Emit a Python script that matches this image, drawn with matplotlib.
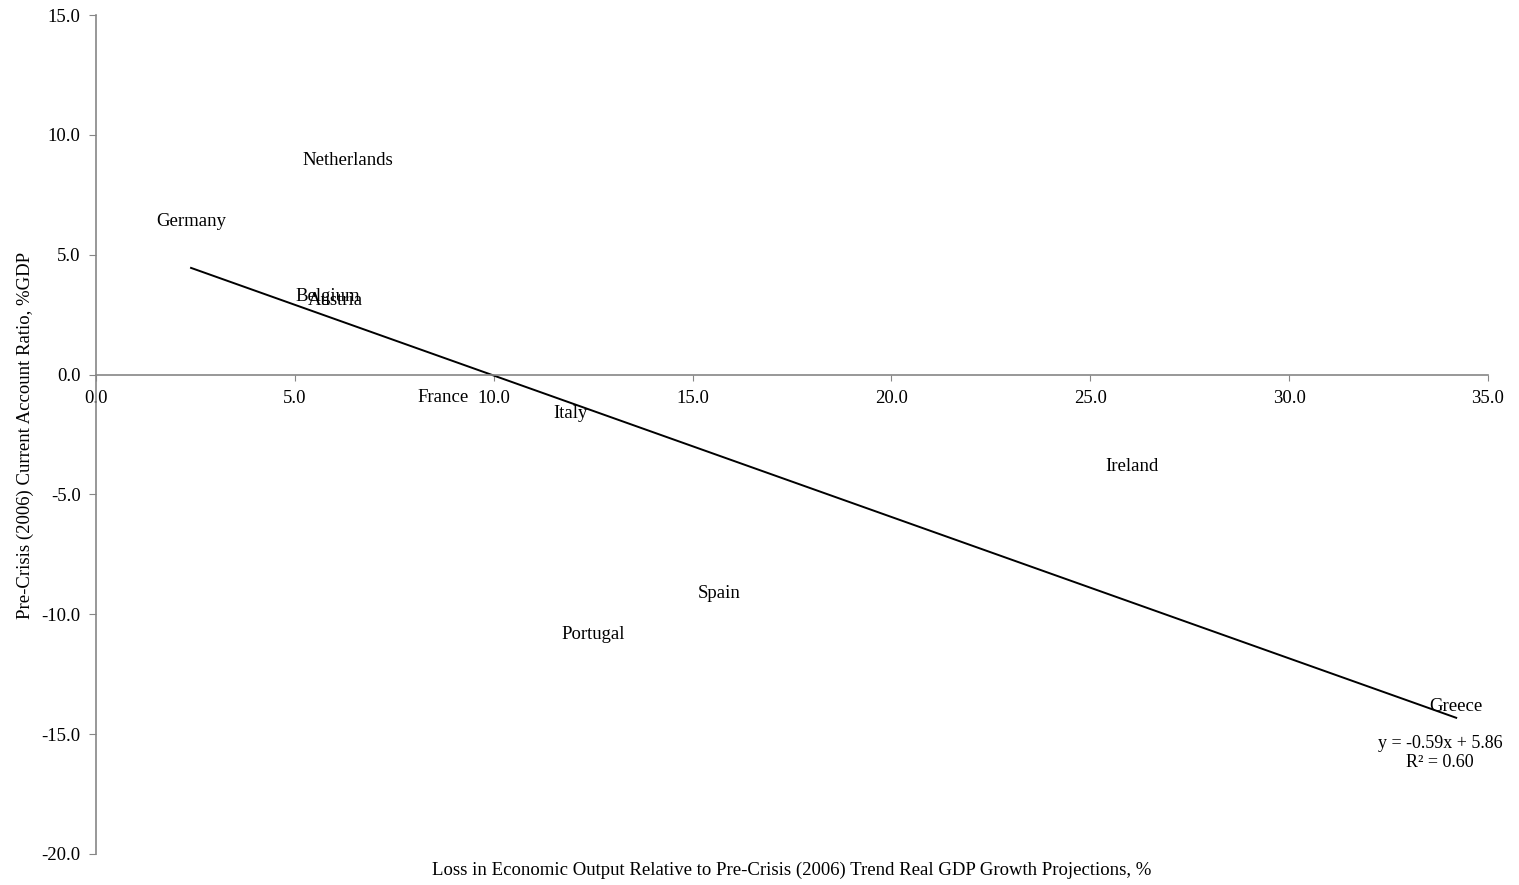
import matplotlib
matplotlib.use("Agg")
import matplotlib.pyplot as plt
import numpy as np

# Country observations: output loss (%) vs. pre-crisis current account (% GDP)
countries = ["Netherlands", "Germany", "Belgium", "Austria", "France", "Italy",
             "Ireland", "Spain", "Portugal", "Greece"]
output_loss = [6.34, 2.39, 5.83, 6.01, 8.73, 11.94, 26.05, 15.67, 12.50, 34.20]
current_account = [9.01, 6.47, 3.34, 3.17, -0.88, -1.54, -3.75, -9.05, -10.76, -13.77]

# Linear trend reported on the chart
slope, intercept, r_squared = -0.59, 5.86, 0.60

x_ticks = [0.0, 5.0, 10.0, 15.0, 20.0, 25.0, 30.0, 35.0]
y_ticks = [-20.0, -15.0, -10.0, -5.0, 0.0, 5.0, 10.0, 15.0]

plt.rcParams['font.family'] = ['Liberation Serif', 'DejaVu Serif']
FS = 13.5
AXIS_GREY = "#868686"

fig = plt.figure(figsize=(15.19, 8.85), dpi=100)
ax = fig.add_axes([96 / 1519, 1 - 854 / 885, (1488 - 96) / 1519, (854 - 15) / 885])

ax.set_xlim(0, 35)
ax.set_ylim(-20, 15)

# Data labels centred on each point (markers hidden)
for name, xv, yv in zip(countries, output_loss, current_account):
    ax.annotate(name, (xv, yv), xytext=(0, -2), textcoords="offset pixels",
                ha="center", va="center", fontsize=FS, color="black", zorder=3)

# Trend line over the data range
xs = np.array([min(output_loss), max(output_loss)])
ax.plot(xs, slope * xs + intercept, color="black", lw=1.4, zorder=2)

ax.text(33.8, -15.78, f"y = {slope:.2f}x + {intercept:.2f}\nR² = {r_squared:.2f}",
        ha="center", va="center", fontsize=FS - 0.5, linespacing=1.15)

# Axes styling: y axis on the left, x axis crossing at zero
for side in ("top", "right"):
    ax.spines[side].set_visible(False)
ax.spines["left"].set_color(AXIS_GREY)
ax.spines["bottom"].set_color(AXIS_GREY)
ax.spines["bottom"].set_position(("data", 0))
ax.spines["left"].set_linewidth(1.2)
ax.spines["bottom"].set_linewidth(1.2)

ax.set_xticks(x_ticks)
ax.set_yticks(y_ticks)
ax.set_xticklabels([f"{t:.1f}" for t in x_ticks], fontsize=FS)
ax.set_yticklabels([f"{t:.1f}" for t in y_ticks], fontsize=FS)
ax.tick_params(axis="y", direction="out", length=5, color=AXIS_GREY, pad=6)
ax.tick_params(axis="x", direction="out", length=4, color=AXIS_GREY, pad=7)

fig.text(792 / 1519, 1 - 870 / 885,
         "Loss in Economic Output Relative to Pre-Crisis (2006) Trend Real GDP Growth Projections, %",
         ha="center", va="center", fontsize=FS)
fig.text(25 / 1519, 1 - 435 / 885, "Pre-Crisis (2006) Current Account Ratio, %GDP",
         ha="center", va="center", rotation=90, fontsize=FS)

fig.savefig("out.png", dpi=100)
